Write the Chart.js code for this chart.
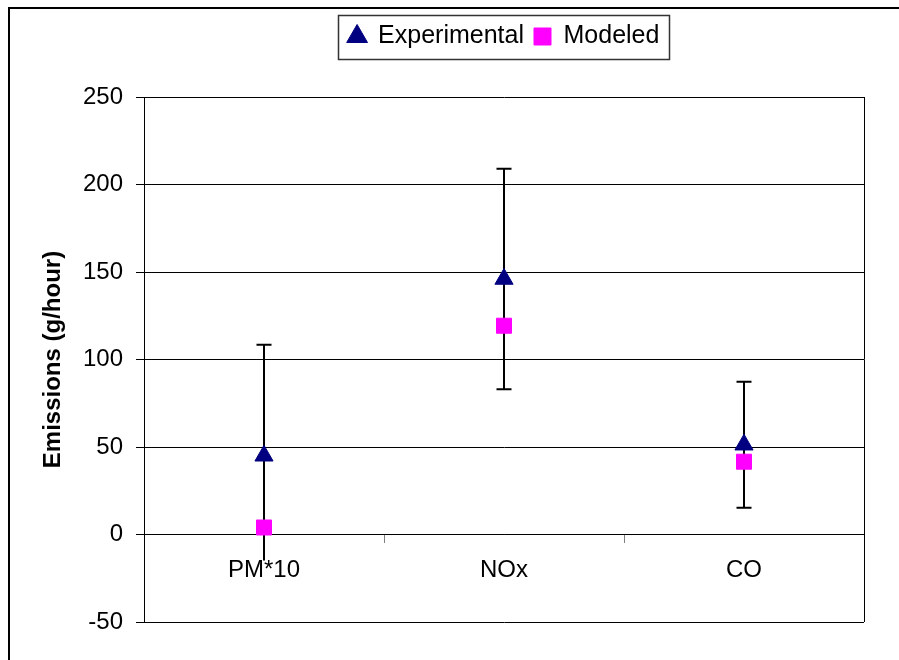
<!DOCTYPE html>
<html>
<head>
<meta charset="utf-8">
<script src="https://cdn.jsdelivr.net/npm/chart.js@4"></script>
<style>
html, body { margin: 0; padding: 0; background: #fff; }
#wrap { width: 899px; height: 660px; }
</style>
</head>
<body>
<div id="wrap"><canvas id="chart" width="899" height="660"></canvas></div>
<script>
const categories = ['PM*10', 'NOx', 'CO'];
const experimental = [45, 146, 51.3];
const experimentalError = [63.5, 63, 36];
const modeled = [4, 119.3, 41.6];
const yTicks = [-50, 0, 50, 100, 150, 200, 250];

const FONT = '"Liberation Sans", Arial, sans-serif';

// extra room under the legend so the plot starts lower
const legendGap = {
    id: 'legendGap',
    beforeLayout(chart) {
        const legend = chart.legend;
        if (legend && !legend._gapPatched) {
            const fit = legend.fit;
            legend.fit = function () {
                fit.call(this);
                this.height += 38;
            };
            legend._gapPatched = true;
        }
    }
};

// error bars for the experimental series, drawn under the markers
const errorBars = {
    id: 'errorBars',
    beforeDatasetsDraw(chart) {
        const ctx = chart.ctx;
        const y = chart.scales.y;
        const meta = chart.getDatasetMeta(0);
        ctx.save();
        ctx.strokeStyle = '#000';
        ctx.lineWidth = 2;
        meta.data.forEach((pt, i) => {
            const top = y.getPixelForValue(experimental[i] + experimentalError[i]);
            const bottom = y.getPixelForValue(experimental[i] - experimentalError[i]);
            ctx.beginPath();
            ctx.moveTo(pt.x, top);
            ctx.lineTo(pt.x, bottom);
            ctx.moveTo(pt.x - 7.5, top);
            ctx.lineTo(pt.x + 7.5, top);
            ctx.moveTo(pt.x - 7.5, bottom);
            ctx.lineTo(pt.x + 7.5, bottom);
            ctx.stroke();
        });
        ctx.restore();
    }
};

// outer frame, plot border and the box round the legend
const frames = {
    id: 'frames',
    afterDraw(chart) {
        const ctx = chart.ctx;
        const area = chart.chartArea;
        ctx.save();
        ctx.strokeStyle = '#000';
        ctx.lineWidth = 1;
        ctx.beginPath();
        ctx.moveTo(Math.round(area.right) + 0.5, area.top);
        ctx.lineTo(Math.round(area.right) + 0.5, area.bottom);
        ctx.stroke();

        ctx.lineWidth = 2;
        ctx.beginPath();
        ctx.moveTo(9, 660);
        ctx.lineTo(9, 8);
        ctx.lineTo(899, 8);
        ctx.stroke();

        const boxes = chart.legend.legendHitBoxes;
        if (boxes && boxes.length) {
            const left = Math.min(...boxes.map(b => b.left)) - 11;
            const right = Math.max(...boxes.map(b => b.left + b.width)) + 9;
            const top = boxes[0].top - 9;
            const bottom = boxes[0].top + boxes[0].height + 10;
            ctx.lineWidth = 1.5;
            ctx.strokeStyle = '#333';
            ctx.strokeRect(Math.round(left) + 0.5, Math.round(top) + 0.5, Math.round(right - left), Math.round(bottom - top));
        }
        ctx.restore();
    }
};

new Chart(document.getElementById('chart'), {
    type: 'line',
    data: {
        labels: categories,
        datasets: [{
            label: 'Experimental',
            data: experimental,
            showLine: false,
            pointStyle: 'triangle',
            pointRadius: 10.5,
            backgroundColor: '#000080',
            borderColor: '#000080',
            pointBorderWidth: 1,
            order: 2
        }, {
            label: 'Modeled',
            data: modeled,
            showLine: false,
            pointStyle: 'rect',
            pointRadius: 10.6,
            backgroundColor: '#FF00FF',
            borderColor: '#FF00FF',
            pointBorderWidth: 1,
            order: 1
        }]
    },
    options: {
        responsive: false,
        animation: false,
        layout: {
            padding: { left: 30, right: 35, top: 14, bottom: 38 }
        },
        plugins: {
            tooltip: { enabled: false },
            legend: {
                position: 'top',
                fullSize: false,
                labels: {
                    usePointStyle: true,
                    boxWidth: 17,
                    boxHeight: 17,
                    padding: 10,
                    color: '#000',
                    font: { family: FONT, size: 25 },
                    sort: (a, b) => a.datasetIndex - b.datasetIndex
                }
            }
        },
        scales: {
            x: {
                type: 'category',
                position: { y: 0 },
                offset: true,
                grid: {
                    offset: true,
                    drawOnChartArea: false,
                    drawTicks: true,
                    tickLength: 8,
                    color: '#808080'
                },
                border: { display: true, color: '#000', width: 1 },
                ticks: {
                    color: '#000',
                    font: { family: FONT, size: 24 },
                    padding: 13,
                    z: 1,
                    showLabelBackdrop: true,
                    backdropColor: '#fff',
                    backdropPadding: { top: -5, bottom: 0, left: 0, right: 0 }
                }
            },
            y: {
                min: -50,
                max: 250,
                afterBuildTicks: (scale) => {
                    scale.ticks = yTicks.map(v => ({ value: v }));
                },
                afterFit: (scale) => {
                    scale.width = 114;
                },
                grid: {
                    color: '#000',
                    lineWidth: 1,
                    drawTicks: true,
                    tickLength: 8
                },
                border: { display: true, color: '#000', width: 1 },
                ticks: {
                    color: '#000',
                    font: { family: FONT, size: 24 },
                    padding: 13
                },
                title: {
                    display: true,
                    text: 'Emissions (g/hour)',
                    color: '#000',
                    font: { family: FONT, size: 24, weight: 'bold' },
                    padding: { top: 9, bottom: 15 }
                }
            }
        }
    },
    plugins: [legendGap, errorBars, frames]
});
</script>
</body>
</html>
